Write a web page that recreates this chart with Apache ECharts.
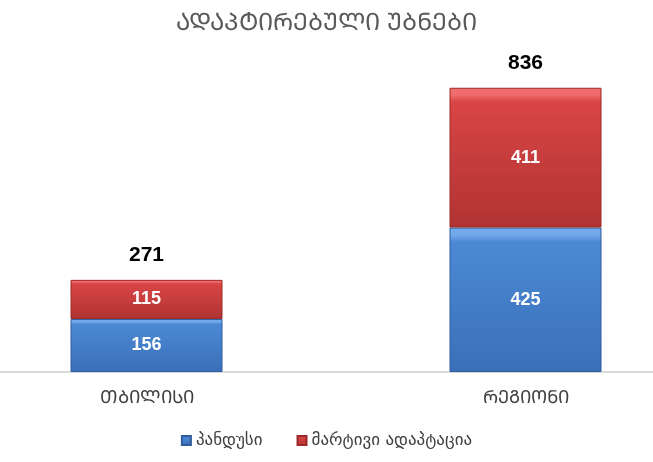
<!DOCTYPE html>
<html>
<head>
<meta charset="utf-8">
<script src="https://cdn.jsdelivr.net/npm/echarts@6/dist/echarts.min.js"></script>
<style>
  html, body { margin: 0; padding: 0; background: #ffffff; }
  #chart { width: 653px; height: 462px; }
</style>
</head>
<body>
<div id="chart"></div>
<script>
  // data
  let categories = ['ᲗᲑᲘᲚᲘᲡᲘ', 'ᲠᲔᲒᲘᲝᲜᲘ']
  let seriesNames = ['პანდუსი', 'მარტივი ადაპტაცია']
  let rampValues = [156, 425]
  let simpleValues = [115, 411]
  let totals = categories.map((c, i) => rampValues[i] + simpleValues[i])

  let font = '"DejaVu Sans", "Noto Sans", sans-serif'
  let numFont = '"Liberation Sans", Arial, sans-serif'

  function grad(top, mid, end) {
    return new echarts.graphic.LinearGradient(0, 0, 0, 1, [
      { offset: 0, color: top },
      { offset: 0.05, color: top },
      { offset: 0.1, color: mid },
      { offset: 1, color: end }
    ])
  }

  let myChart = echarts.init(document.getElementById('chart'))
  myChart.setOption({
    animation: false,
    title: {
      text: 'ᲐᲓᲐᲞᲢᲘᲠᲔᲑᲣᲚᲘ ᲣᲑᲜᲔᲑᲘ',
      left: 'center',
      top: 7,
      textStyle: { fontFamily: font, fontSize: 24, fontWeight: 'normal', color: '#595959' }
    },
    legend: {
      bottom: 8,
      left: 'center',
      itemWidth: 9,
      itemHeight: 9,
      itemGap: 34,
      icon: 'rect',
      textStyle: { fontFamily: font, fontSize: 17, color: '#404040' },
      data: seriesNames
    },
    grid: { left: -43, width: 758, top: 66, bottom: 90, outerBoundsMode: 'none' },
    xAxis: {
      type: 'category',
      data: categories,
      axisTick: { show: false },
      axisLine: { lineStyle: { color: '#d9d9d9', width: 2 } },
      axisLabel: { fontFamily: font, fontSize: 18, color: '#404040', margin: 17 }
    },
    yAxis: {
      type: 'value',
      min: 0,
      max: 900,
      show: false,
      splitLine: { show: false }
    },
    series: [{
      name: seriesNames[0],
      type: 'bar',
      stack: 'all',
      barWidth: 152,
      data: rampValues,
      itemStyle: {
        color: grad('#72aaea', '#4c89d5', '#3a6fb8'),
        borderColor: '#2f5d9c',
        borderWidth: 1
      },
      label: {
        show: true,
        position: 'inside',
        color: '#ffffff',
        fontFamily: numFont,
        fontWeight: 'bold',
        fontSize: 18
      }
    }, {
      name: seriesNames[1],
      type: 'bar',
      stack: 'all',
      barWidth: 152,
      data: simpleValues,
      itemStyle: {
        color: grad('#ef6d6d', '#d94545', '#b13333'),
        borderColor: '#9c2a2a',
        borderWidth: 1
      },
      label: {
        show: true,
        position: 'inside',
        color: '#ffffff',
        fontFamily: numFont,
        fontWeight: 'bold',
        fontSize: 18
      }
    }, {
      name: 'total',
      type: 'bar',
      stack: 'all',
      barWidth: 152,
      data: totals.map(() => 0),
      itemStyle: { color: 'transparent' },
      label: {
        show: true,
        position: 'top',
        distance: 14,
        formatter: (p) => totals[p.dataIndex],
        color: '#000000',
        fontFamily: numFont,
        fontWeight: 'bold',
        fontSize: 21
      }
    }]
  })
</script>
</body>
</html>
